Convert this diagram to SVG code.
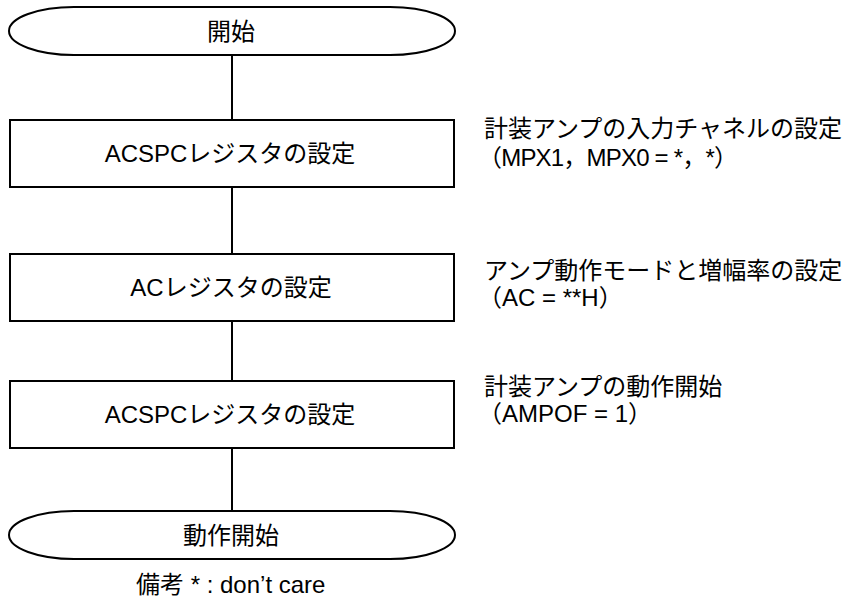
<svg xmlns="http://www.w3.org/2000/svg" width="846" height="602" viewBox="0 0 846 602">
<style>
.s{fill:#fff;stroke:#000;stroke-width:2}
.l{stroke:#000;stroke-width:2;fill:none}
text{font-family:"Liberation Sans","Noto Sans CJK JP",sans-serif;font-size:24px;fill:#000}
.c{text-anchor:middle}
</style>
<rect width="846" height="602" fill="#fff"/>
<g id="connectors">
<line class="l" x1="232" y1="55" x2="232" y2="120"/>
<line class="l" x1="232" y1="187" x2="232" y2="254"/>
<line class="l" x1="232" y1="321" x2="232" y2="381"/>
<line class="l" x1="232" y1="448" x2="232" y2="511"/>
</g>
<g id="start">
<path class="s" d="M74,7 H390 A65 24 0 0 1 390,55 H74 A65 24 0 0 1 74,7 Z"/>
<text class="c" x="231" y="40">開始</text>
</g>
<g id="step1">
<rect class="s" x="10" y="120" width="444" height="67"/>
<text class="c" x="230" y="162">ACSPCレジスタの設定</text>
</g>
<g id="note1">
<text x="484" y="137">計装アンプの入力チャネルの設定</text>
<text x="478" y="166" letter-spacing="-0.8">（MPX1，MPX0 = *，*）</text>
</g>
<g id="step2">
<rect class="s" x="10" y="254" width="444" height="67"/>
<text class="c" x="231" y="296">ACレジスタの設定</text>
</g>
<g id="note2">
<text x="484" y="279">アンプ動作モードと増幅率の設定</text>
<text x="478" y="306">（AC = **H）</text>
</g>
<g id="step3">
<rect class="s" x="10" y="381" width="444" height="67"/>
<text class="c" x="230" y="423">ACSPCレジスタの設定</text>
</g>
<g id="note3">
<text x="484" y="395">計装アンプの動作開始</text>
<text x="478" y="422">（AMPOF = 1）</text>
</g>
<g id="end">
<path class="s" d="M74,511 H390 A65 24 0 0 1 390,559 H74 A65 24 0 0 1 74,511 Z"/>
<text class="c" x="231" y="544">動作開始</text>
</g>
<g id="remark">
<text x="136" y="593">備考 * : don’t care</text>
</g>
</svg>
